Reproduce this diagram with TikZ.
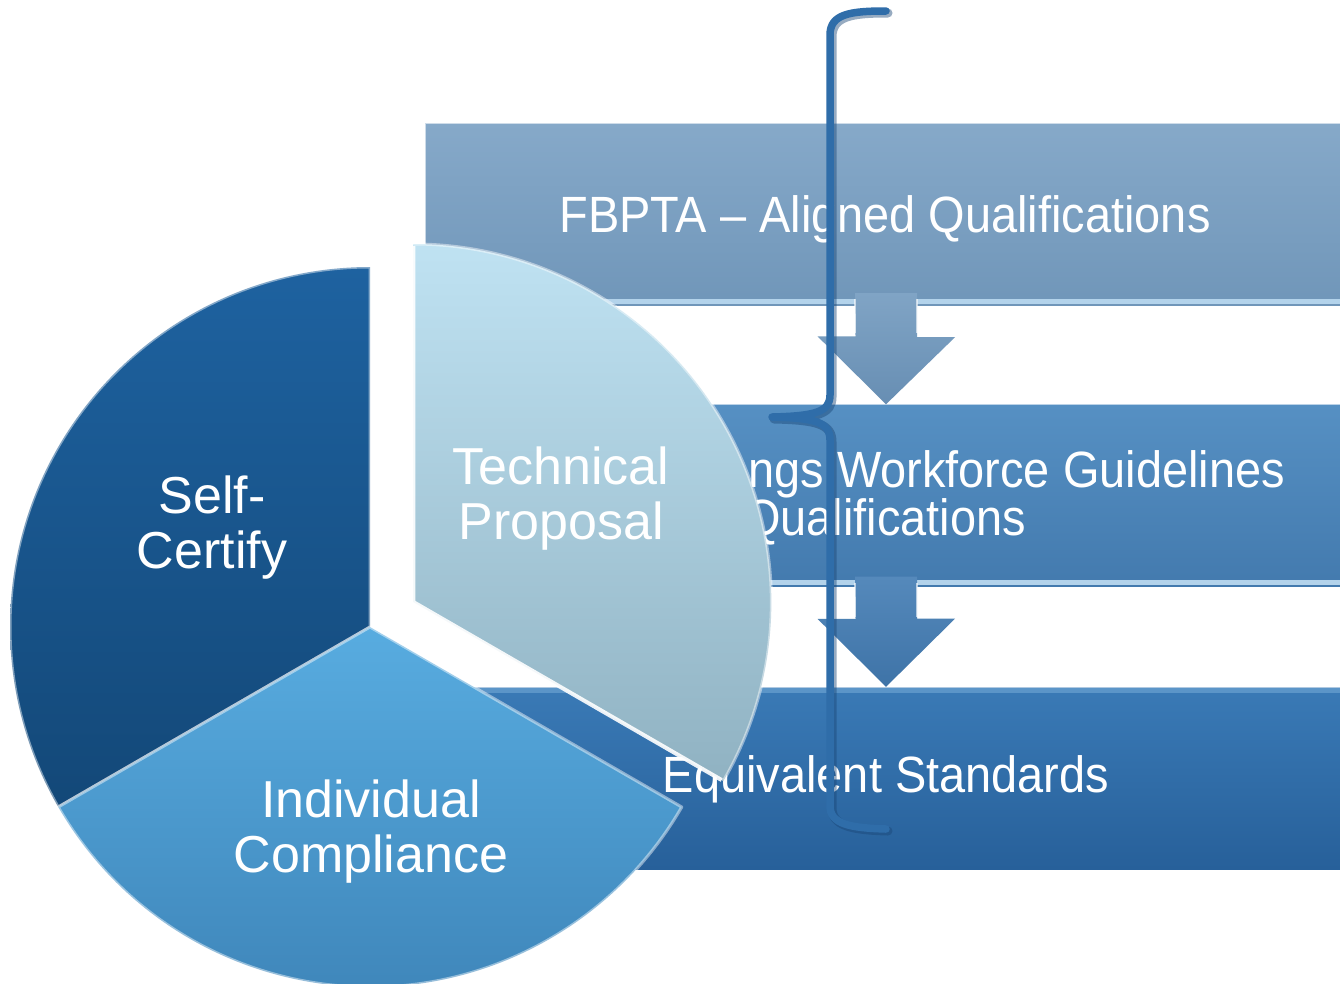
\documentclass[tikz,border=0pt]{standalone}
\usepackage{fontspec}
\setmainfont{Liberation Sans}
\newfontfamily\barfont[FakeStretch=0.92]{Liberation Sans}
\usetikzlibrary{calc}
\definecolor{baronetop}{HTML}{86A9C9}
\definecolor{baronebot}{HTML}{7096B9}
\definecolor{bartwotop}{HTML}{5690C3}
\definecolor{bartwobot}{HTML}{437AAE}
\definecolor{barthreetop}{HTML}{3A7AB6}
\definecolor{barthreebot}{HTML}{27609A}
\definecolor{arronetop}{HTML}{80A4C5}
\definecolor{arronebot}{HTML}{678EB3}
\definecolor{arrtwotop}{HTML}{5589BB}
\definecolor{arrtwobot}{HTML}{3E73A7}
\definecolor{sctop}{HTML}{1E62A0}
\definecolor{scbot}{HTML}{134878}
\definecolor{ictop}{HTML}{58ACE0}
\definecolor{icbot}{HTML}{3C82B6}
\definecolor{tptop}{HTML}{BFE2F2}
\definecolor{tpbot}{HTML}{90B2C2}
\definecolor{braceblue}{HTML}{2F6DA9}
\definecolor{braceshade}{HTML}{1A4676}
\definecolor{hilite}{HTML}{B3D3EB}
\definecolor{hilitedark}{HTML}{5B95C8}
\begin{document}
\begin{tikzpicture}[x=1pt,y=-1pt,
  barbox/.style={rectangle, inner sep=0pt, minimum width=915pt, minimum height=182pt, draw=none},
  bartext/.style={text=white, inner sep=0pt, font=\barfont\fontsize{51}{48}\selectfont},
  stripe/.style={draw=#1, line width=5pt},
  edgeline/.style={draw=white, draw opacity=0.6, line width=2pt},
  blockarrow/.style={draw=none},
  brace/.style={draw=braceblue, line width=7.5pt, line cap=round, line join=round},
  braceback/.style={draw=braceshade, draw opacity=0.45, line width=9pt, line cap=round, line join=round},
  pietext/.style={text=white, align=center, inner sep=0pt, font=\fontsize{52}{55}\selectfont},
  sliceedge/.style={draw=white, draw opacity=0.45, line width=3pt, line join=round},
  tpedge/.style={draw=white, draw opacity=0.9, line width=4pt, line join=round}
]
\useasboundingbox[fill=white] (0,0) rectangle (1340,983);

% bars
\node[barbox, top color=baronetop, bottom color=baronebot] (b1) at (882.5,214) {};
\node[barbox, top color=bartwotop, bottom color=bartwobot] (b2) at (882.5,495.5) {};
\node[barbox, top color=barthreetop, bottom color=barthreebot] (b3) at (882.5,778) {};
\foreach \b in {b1,b2}{
  \draw[stripe=hilite] ($(\b.south west)+(0,-4)$) -- ($(\b.south east)+(0,-4)$);
}
\draw[stripe=hilitedark] ($(b3.north west)+(0,4)$) -- ($(b3.north east)+(0,4)$);
\foreach \b in {b1,b2,b3}{
  \draw[edgeline] (\b.south west) -- (\b.north west) -- (\b.north east);
}

% bar texts
\node[bartext, anchor=base] (t1) at (885,232) {FBPTA – Aligned Qualifications};
\node[bartext, anchor=base east] (t2a) at (1285,487) {ngs Workforce Guidelines};
\node[bartext, anchor=base] (t2b) at (885,535) {Qualifications};
\node[bartext, anchor=base] (t3) at (886,792) {Equivalent Standards};

% arrows between bars
\coordinate (a1) at ($(b1.south)+(3.5,-12)$);
\coordinate (a2) at ($(b2.south)+(3.5,-10)$);
\path[blockarrow, top color=arronetop, bottom color=arronebot]
  (a1) ++(-31,0) -- ++(62,0) -- ++(0,44) -- ++(38,0) -- (b2.north -| a1) -- ++(-68.5,-68) -- ++(38,0) -- cycle;
\path[blockarrow, top color=arrtwotop, bottom color=arrtwobot]
  (a2) ++(-31,0) -- ++(62,0) -- ++(0,42) -- ++(38,0) -- (b3.north -| a2) -- ++(-68.5,-68) -- ++(38,0) -- cycle;
\foreach \a in {a1,a2}{
  \draw[edgeline] ($(\a)+(-31,6)$) -- ++(0,34);
  \draw[edgeline] ($(\a)+(31,6)$) -- ++(0,34);
}

% bracket
\draw[braceback, shift={(2,2)}] (886,11) .. controls (850,11) and (830,14) .. (830,35)
  -- (830,395) .. controls (830,412) and (815,416) .. (772,417)
  .. controls (815,418) and (830,422) .. (830,440)
  -- (830,806) .. controls (830,824) and (850,828) .. (886,829);
\draw[brace] (886,11) .. controls (850,11) and (830,14) .. (830,35)
  -- (830,395) .. controls (830,412) and (815,416) .. (772,417)
  .. controls (815,418) and (830,422) .. (830,440)
  -- (830,806) .. controls (830,824) and (850,828) .. (886,829);

% pie
\coordinate (C) at (370,627);
\coordinate (C2) at ($(C)+(-30:50)$);
\path[top color=sctop, bottom color=scbot]
  (C) -- ++(-90:360) arc[start angle=-90, end angle=-210, radius=360] -- cycle;
\draw[sliceedge] (C) -- ++(-90:360) arc[start angle=-90, end angle=-210, radius=360] -- cycle;
\path[top color=ictop, bottom color=icbot]
  (C) -- ++(-210:360) arc[start angle=-210, end angle=-330, radius=360] -- cycle;
\draw[sliceedge] (C) -- ++(-210:360) arc[start angle=-210, end angle=-330, radius=360] -- cycle;
\path[top color=tptop, bottom color=tpbot]
  (C2) -- ++(30:358) arc[start angle=30, end angle=-90, radius=358] -- cycle;
\draw[sliceedge] (C2) ++(30:358) arc[start angle=30, end angle=-90, radius=358];
\draw[tpedge] ($(C2)+(30:356)$) -- (C2) -- ++(-90:356);

\node[pietext] (sc) at (212,528) {Self-\\Certify};
\node[pietext] (tp) at (561,499) {Technical\\Proposal};
\node[pietext] (ic) at (371,832) {Individual\\Compliance};
\end{tikzpicture}
\end{document}
